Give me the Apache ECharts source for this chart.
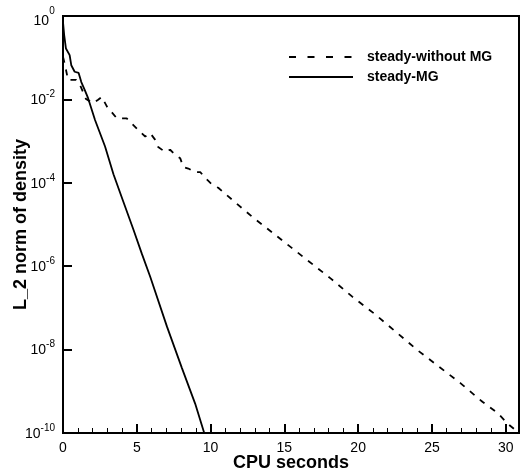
<!DOCTYPE html>
<html><head><meta charset="utf-8">
<script src="https://cdn.jsdelivr.net/npm/echarts@6/dist/echarts.min.js"></script>
<style>html,body{margin:0;padding:0;background:#fff}#c{width:521px;height:471px}</style>
</head><body><div id="c"></div>
<script>
// ---- data ----
const seriesNames = ['steady-without MG', 'steady-MG'];
const noMgTime = [0, 0.14, 0.34, 0.88, 1.15, 1.56, 2.04, 2.38, 2.63, 2.97, 3.65, 4.32, 5.23, 5.57, 5.91, 6.25, 6.45, 6.92, 7.26, 7.6, 7.94, 8.15, 8.49, 8.96, 9.3, 9.78, 10.12, 10.52, 11.47, 12.9, 13.71, 15.5, 18.13, 19.6, 21.07, 22.54, 24.0, 25.48, 26.95, 28.42, 29.46, 30.14, 30.9];
const noMgL2 = [0.105, 0.066, 0.0295, 0.0295, 0.0224, 0.0102, 0.0081, 0.0098, 0.0115, 0.0068, 0.0035, 0.0035, 0.00166, 0.00129, 0.00155, 0.00107, 7.2e-4, 5.5e-4, 6.2e-4, 4.7e-4, 3.9e-4, 2.4e-4, 2.2e-4, 1.8e-4, 1.8e-4, 1.17e-4, 8.9e-5, 7.6e-5, 3.9e-5, 1.45e-5, 8.7e-6, 2.75e-6, 5.1e-7, 1.86e-7, 7.4e-8, 2.7e-8, 9.8e-9, 3.9e-9, 1.55e-9, 5.6e-10, 3.0e-10, 1.66e-10, 1.0e-10];
const mgTime = [0, 0.08, 0.2, 0.45, 0.56, 0.79, 1.06, 1.24, 1.47, 1.7, 2.17, 2.85, 3.42, 4.09, 4.77, 5.34, 5.91, 7.04, 8.06, 8.96, 9.57];
const mgL2 = [0.71, 0.35, 0.166, 0.115, 0.066, 0.046, 0.043, 0.026, 0.017, 0.0107, 0.0032, 7.4e-4, 1.6e-4, 3.5e-5, 7.6e-6, 2.0e-6, 5.6e-7, 3.6e-8, 3.6e-9, 5.0e-10, 1.0e-10];
const xMajorTicks = [0, 5, 10, 15, 20, 25, 30];
const xMinorTicks = [1,2,3,4,6,7,8,9,11,12,13,14,16,17,18,19,21,22,23,24,26,27,28,29];
const yTicks = [1, 1e-2, 1e-4, 1e-6, 1e-8, 1e-10];
const xMin = 0, xMax = 30.9;
const yMin = 1e-10, yMax = 1;

const FONT = '"Liberation Sans", Arial, sans-serif';
const pairs = (xs, ys) => xs.map((x, i) => [x, ys[i]]);

const chart = echarts.init(document.getElementById('c'), null, {renderer: 'canvas'});
chart.setOption({
  animation: false,
  backgroundColor: '#fff',
  grid: {left: 63, right: 2, top: 16, bottom: 38, containLabel: false, outerBoundsMode: 'none',
         show: true, borderColor: '#000', borderWidth: 2, backgroundColor: 'transparent'},
  legend: {
    orient: 'vertical', left: 283, top: 45, itemWidth: 64, itemHeight: 14, itemGap: 6,
    itemStyle: {color: 'rgba(0,0,0,0)', borderColor: 'rgba(0,0,0,0)', borderWidth: 0, opacity: 0},
    textStyle: {fontFamily: FONT, fontWeight: 'bold', fontSize: 14, color: '#000', padding: [0, 0, 0, 9]},
    data: [
      {name: seriesNames[0], lineStyle: {type: [7, 11.5], width: 2}},
      {name: seriesNames[1], lineStyle: {width: 2}}
    ]
  },
  xAxis: [{
    type: 'value', min: xMin, max: xMax,
    name: 'CPU seconds', nameLocation: 'middle', nameGap: 21, nameMoveOverlap: false,
    nameTextStyle: {fontFamily: FONT, fontWeight: 'bold', fontSize: 18, color: '#000'},
    axisLine: {show: true, lineStyle: {color: '#000', width: 2}},
    axisTick: {show: true, inside: true, length: 9, lineStyle: {color: '#000', width: 2}, customValues: xMajorTicks},
    axisLabel: {show: true, margin: 8, fontFamily: FONT, fontSize: 14, color: '#000', customValues: xMajorTicks},
    splitLine: {show: false}
  }, {
    type: 'value', min: xMin, max: xMax, position: 'bottom',
    axisLine: {show: false},
    axisTick: {show: true, inside: true, length: 5, lineStyle: {color: '#000', width: 1}, customValues: xMinorTicks},
    axisLabel: {show: false},
    splitLine: {show: false}
  }],
  yAxis: {
    type: 'log', logBase: 10, min: yMin, max: yMax,
    name: 'L_2 norm of density', nameLocation: 'middle', nameGap: 33, nameMoveOverlap: false,
    nameTextStyle: {fontFamily: FONT, fontWeight: 'bold', fontSize: 18, color: '#000'},
    axisLine: {show: true, lineStyle: {color: '#000', width: 2}},
    axisTick: {show: true, inside: true, length: 9, lineStyle: {color: '#000', width: 2}, customValues: yTicks},
    axisLabel: {
      margin: 8, customValues: yTicks, padding: [2, 0, 0, 0],
      formatter: v => {
        const e = Math.round(Math.log10(v));
        return e === 0 ? '{b0|10}{s0|0}{z| }' : '{b|10}{s|' + e + '}';
      },
      rich: {
        b: {fontFamily: FONT, fontSize: 14, color: '#000', lineHeight: 22},
        s: {fontFamily: FONT, fontSize: 10, color: '#000', lineHeight: 10, verticalAlign: 'top'},
        b0: {fontFamily: FONT, fontSize: 14, color: '#000', lineHeight: 14, verticalAlign: 'bottom'},
        s0: {fontFamily: FONT, fontSize: 10, color: '#000', lineHeight: 14, verticalAlign: 'top'},
        z: {fontFamily: FONT, fontSize: 1, lineHeight: 22}
      }
    },
    splitLine: {show: false}
  },
  series: [{
    name: seriesNames[0], type: 'line', xAxisIndex: 0, symbol: 'none', showSymbol: false,
    lineStyle: {color: '#000', width: 1.8, type: [6, 7]}, itemStyle: {color: '#000'},
    data: pairs(noMgTime, noMgL2)
  }, {
    name: seriesNames[1], type: 'line', xAxisIndex: 0, symbol: 'none', showSymbol: false,
    lineStyle: {color: '#000', width: 1.8, type: 'solid'}, itemStyle: {color: '#000'},
    data: pairs(mgTime, mgL2)
  }]
});
</script>
</body></html>
